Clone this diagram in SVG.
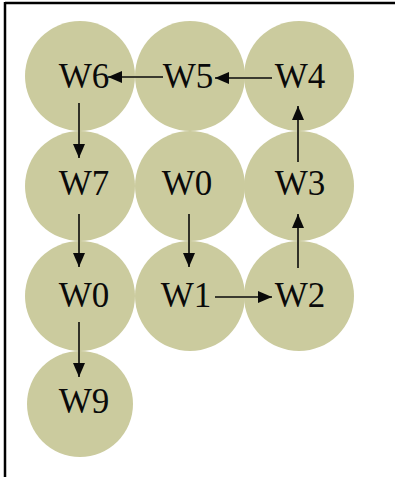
<svg xmlns="http://www.w3.org/2000/svg" width="395" height="477" viewBox="0 0 395 477">
  <style>
    .cell { fill: #cbcb9e; }
    .lbl { font-family: "Liberation Serif", "Times New Roman", serif; font-size: 35px; fill: #0a0a0a; text-anchor: middle; }
    .edge { stroke: #0a0a0a; stroke-width: 1.6; fill: none; marker-end: url(#head); }
  </style>
  <defs>
    <marker id="head" viewBox="0 0 14 12" refX="14" refY="6" markerWidth="14" markerHeight="12" markerUnits="userSpaceOnUse" orient="auto">
      <path d="M0,0 L14,6 L0,12 Z" fill="#0a0a0a"/>
    </marker>
  </defs>
  <rect width="395" height="477" fill="#fff"/>
  <!-- frame edges -->
  <line x1="5" y1="3" x2="395" y2="3" stroke="#000" stroke-width="2.5"/>
  <line x1="5" y1="2" x2="5" y2="477" stroke="#000" stroke-width="2.5"/>

  <g id="n-w6"><circle class="cell" cx="80" cy="76" r="55"/><text class="lbl" x="84" y="88">W6</text></g>
  <g id="n-w5"><circle class="cell" cx="190" cy="76" r="55"/><text class="lbl" x="188" y="88">W5</text></g>
  <g id="n-w4"><circle class="cell" cx="299" cy="76" r="55"/><text class="lbl" x="300" y="88">W4</text></g>
  <g id="n-w7"><circle class="cell" cx="80" cy="186" r="55"/><text class="lbl" x="84" y="195">W7</text></g>
  <g id="n-w0a"><circle class="cell" cx="190" cy="186" r="55"/><text class="lbl" x="187" y="195">W0</text></g>
  <g id="n-w3"><circle class="cell" cx="299" cy="186" r="55"/><text class="lbl" x="300" y="195">W3</text></g>
  <g id="n-w0b"><circle class="cell" cx="80" cy="296" r="55"/><text class="lbl" x="84" y="307">W0</text></g>
  <g id="n-w1"><circle class="cell" cx="190" cy="296" r="55"/><text class="lbl" x="186" y="307">W1</text></g>
  <g id="n-w2"><circle class="cell" cx="299" cy="296" r="55"/><text class="lbl" x="300" y="307">W2</text></g>
  <g id="n-w9"><circle class="cell" cx="80" cy="404" r="53"/><text class="lbl" x="84" y="413">W9</text></g>

  <g id="connectors">
    <line class="edge" x1="163" y1="77" x2="108" y2="77"/>
    <line class="edge" x1="272" y1="78" x2="215" y2="78"/>
    <line class="edge" x1="79" y1="103" x2="79" y2="158"/>
    <line class="edge" x1="79" y1="214" x2="79" y2="267"/>
    <line class="edge" x1="189" y1="214" x2="189" y2="267"/>
    <line class="edge" x1="79" y1="322" x2="79" y2="377"/>
    <line class="edge" x1="215" y1="297" x2="272" y2="297"/>
    <line class="edge" x1="298" y1="268" x2="298" y2="214"/>
    <line class="edge" x1="298" y1="162" x2="298" y2="106"/>
  </g>
</svg>
